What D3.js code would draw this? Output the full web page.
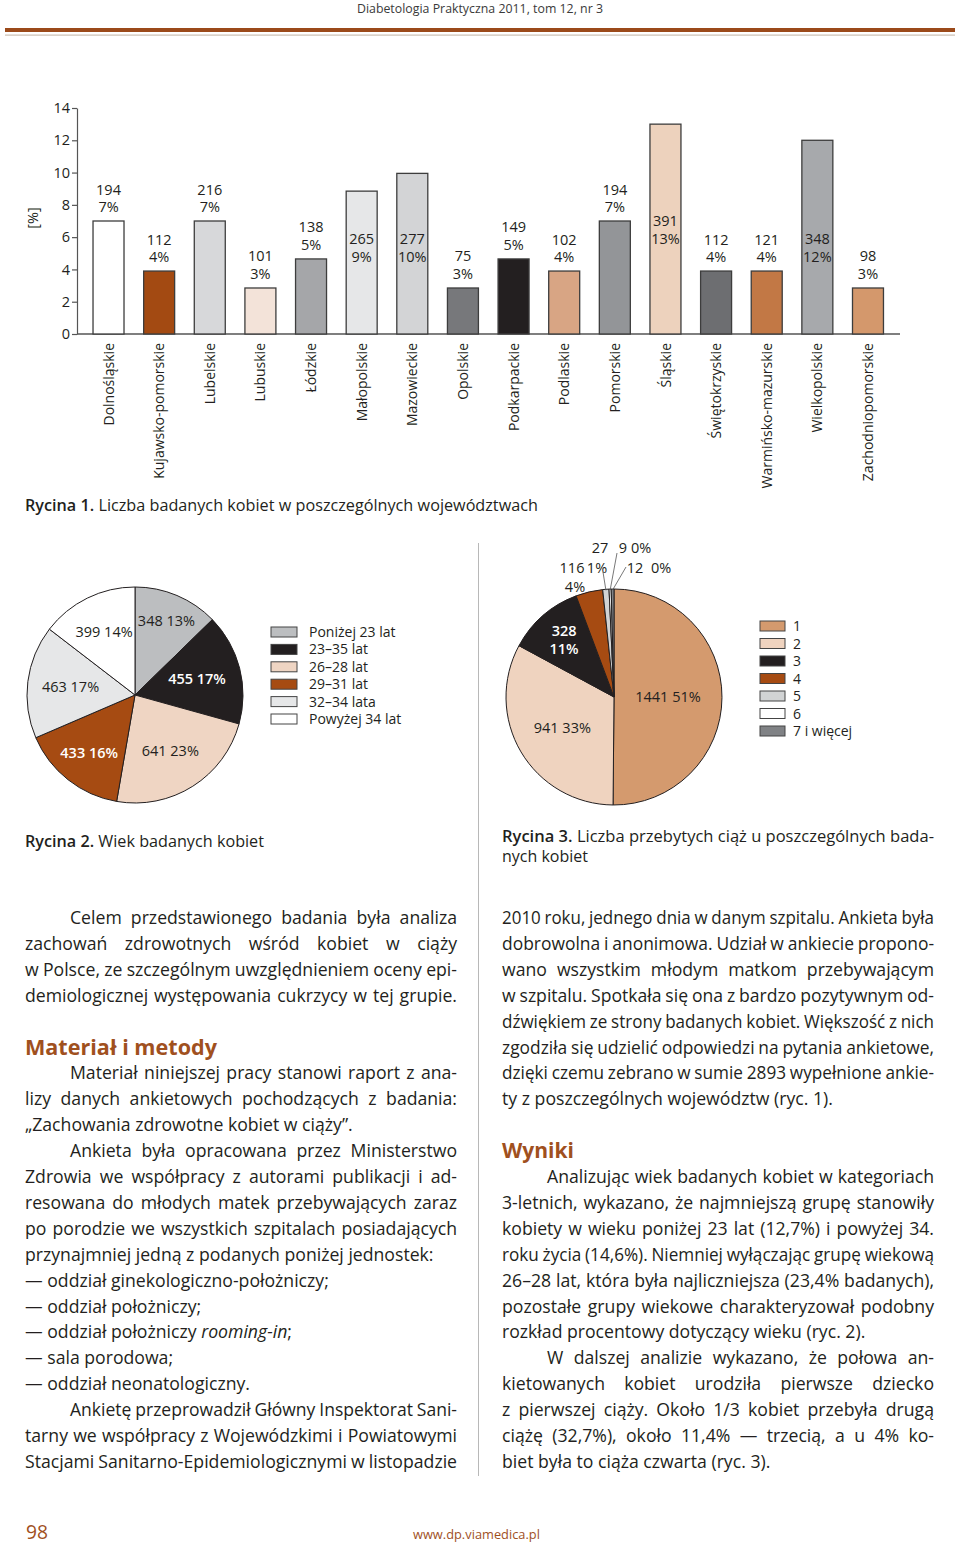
<!DOCTYPE html>
<html><head><meta charset="utf-8">
<script src="https://cdn.jsdelivr.net/npm/d3@7"></script>
<style>html,body{margin:0;padding:0;background:#fff}</style>
</head><body>
<svg id="page" width="960" height="1545"></svg>
<script>
// ---------------- DATA ----------------
const regions = ["Dolnośląskie","Kujawsko-pomorskie","Lubelskie","Lubuskie","Łódzkie","Małopolskie","Mazowieckie","Opolskie","Podkarpackie","Podlaskie","Pomorskie","Śląskie","Świętokrzyskie","Warmińsko-mazurskie","Wielkopolskie","Zachodniopomorskie"];
const regionCounts = [194,112,216,101,138,265,277,75,149,102,194,391,112,121,348,98];
const regionPctLabels = [7,4,7,3,5,9,10,3,5,4,7,13,4,4,12,3];
const regionBarValues = [7.0,3.9,7.0,2.85,4.65,8.85,9.95,2.85,4.65,3.9,7.0,13.0,3.9,3.9,12.0,2.85];
const yTicks = [0,2,4,6,8,10,12,14];

const ageGroups = ["Poniżej 23 lat","23–35 lat","26–28 lat","29–31 lat","32–34 lata","Powyżej 34 lat"];
const ageCounts = [348,455,641,433,463,399];
const agePct = [13,17,23,16,17,14];

const pregGroups = ["1","2","3","4","5","6","7 i więcej"];
const pregCounts = [1441,941,328,116,27,9,12];
const pregPct = [51,33,11,4,1,0,0];

// ---------------- STYLE ----------------
const FONT = "'Open Sans', 'Noto Sans', sans-serif";
const INK = "#231f20";
const BROWN = "#a0501e";
const regionColors = ["#ffffff","#a34a12","#d7d8da","#f3e3d9","#a5a6a9","#e6e7e8","#d3d4d6","#77787b","#231f20","#d8a584","#939598","#edd2bd","#6d6e71","#c27845","#a7a9ac","#d4986c"];
const ageColors = ["#bcbec0","#231f20","#efd5c3","#a64b12","#e6e7e8","#ffffff"];
const pregColors = ["#d49a6e","#efd3bf","#231f20","#a64b12","#d1d3d4","#ffffff","#808285"];

const svg = d3.select("#page").attr("font-family", FONT);
svg.append("rect").attr("width",960).attr("height",1545).attr("fill","#fff");

// ---------- text helpers ----------
const measurer = svg.append("text").attr("visibility","hidden").attr("x",0).attr("y",-100);
function parseWord(w){
  return w.split(/(\{[^}]*\}|\[[^\]]*\])/).filter(s=>s.length).map(s=>
    s[0]==="{" ? {t:s.slice(1,-1), it:true} : s[0]==="[" ? {t:s.slice(1,-1), b:true} : {t:s});
}
function natWidth(segs, size, weight){
  measurer.text(null).attr("font-size", size).attr("font-weight", weight);
  segs.forEach(s=>measurer.append("tspan").attr("font-style", s.it?"italic":"normal")
    .attr("font-weight", s.b?600:weight).text(s.t));
  return measurer.node().getComputedTextLength();
}
function drawLine(g, str, o){
  const size=o.size||17, weight=o.weight||400, color=o.color||INK;
  const words = str.split(" ").filter(w=>w.length);
  const segs = words.map(parseWord);
  const ww = segs.map(s=>natWidth(s,size,weight));
  const sp = natWidth([{t:"a a"}],size,weight) - natWidth([{t:"aa"}],size,weight);
  const W = o.x1 - o.x0, n = words.length, sum = d3.sum(ww);
  let k = o.k||1, gap = sp*k;
  if (o.justify && n>1){
    gap = (W - sum*k)/(n-1);
    if (gap < sp*k*0.85){ k = W/(sum + sp*0.85*(n-1)); gap = sp*0.85*k; }
  } else if (o.fit){
    k = W/(sum + sp*(n-1)); gap = sp*k;
  }
  let x = o.x0;
  segs.forEach((s,i)=>{
    const t = g.append("text").attr("transform",`translate(${x},${o.y}) scale(${k},1)`)
      .attr("font-size",size).attr("font-weight",weight).attr("fill",color);
    s.forEach(p=>t.append("tspan").attr("font-style",p.it?"italic":"normal")
      .attr("font-weight",p.b?600:weight).text(p.t));
    x += ww[i]*k + gap;
  });
}

// ---------- header ----------
drawLine(svg, "Diabetologia Praktyczna 2011, tom 12, nr 3", {x0:357,x1:603,y:13,size:13,fit:true,color:"#3a3a3a"});
svg.append("rect").attr("x",5).attr("y",28).attr("width",950).attr("height",4).attr("fill","#9b4a1a");
svg.append("rect").attr("x",5).attr("y",34.5).attr("width",950).attr("height",1.2).attr("fill","#cbbfb3");

// ---------- Figure 1: bar chart ----------
const x = d3.scaleBand().domain(regions).range([83.2,893.3]).paddingInner(0.388).paddingOuter(0.194);
const y = d3.scaleLinear().domain([0,14]).range([334,108]);
const f1 = svg.append("g");

const yAxis = f1.append("g").attr("transform","translate(77,0)")
  .call(d3.axisLeft(y).tickValues(yTicks).tickSize(5).tickSizeOuter(0).tickPadding(2));
yAxis.select(".domain").attr("stroke","#555").attr("stroke-width",1.2);
yAxis.selectAll(".tick line").attr("stroke","#555").attr("stroke-width",1.2);
yAxis.selectAll(".tick text").attr("font-size",14.5).attr("font-family",FONT).attr("fill",INK);

const xAxis = f1.append("g").attr("transform",`translate(0,${y(0)})`)
  .call(d3.axisBottom(x).tickSize(0));
xAxis.select(".domain").remove();
xAxis.selectAll(".tick text").attr("font-size",14).attr("font-family",FONT).attr("fill",INK)
  .attr("transform","rotate(-90)").attr("text-anchor","end").attr("x",-9).attr("y",0).attr("dy","0.36em");
f1.append("line").attr("x1",77).attr("x2",900).attr("y1",y(0)).attr("y2",y(0))
  .attr("stroke","#555").attr("stroke-width",1.4);

f1.selectAll("rect.bar").data(regions).join("rect").attr("class","bar")
  .attr("x",d=>x(d)).attr("width",x.bandwidth())
  .attr("y",(d,i)=>y(regionBarValues[i])).attr("height",(d,i)=>y(0)-y(regionBarValues[i]))
  .attr("fill",(d,i)=>regionColors[i]).attr("stroke","#3d3d3d").attr("stroke-width",1.3);

// label anchor: above short bars; tall bars carry labels lower
const labelAnchor = (v,i)=> v>8 ? (regions[i]==="Śląskie" ? 5.02 : 3.92) : v;
const bl = f1.selectAll("g.blab").data(regions).join("g").attr("class","blab")
  .attr("transform",(d,i)=>`translate(${x(d)+x.bandwidth()/2},${y(labelAnchor(regionBarValues[i],i))-9})`);
bl.append("text").attr("text-anchor","middle").attr("y",-17.5).attr("font-size",14.5).attr("fill",INK)
  .text((d,i)=>regionCounts[i]);
bl.append("text").attr("text-anchor","middle").attr("y",0).attr("font-size",14.5).attr("fill",INK)
  .text((d,i)=>regionPctLabels[i]+"%");

f1.append("text").attr("transform","translate(38,218) rotate(-90)").attr("text-anchor","middle")
  .attr("font-size",14.5).attr("fill",INK).text("[%]");

drawLine(svg, "[Rycina] [1.] Liczba badanych kobiet w poszczególnych województwach", {x0:25,x1:538,y:511,size:15.5,fit:true});

// ---------- divider ----------
svg.append("line").attr("x1",478.5).attr("x2",478.5).attr("y1",543).attr("y2",1476)
  .attr("stroke","#b8b8b8").attr("stroke-width",1);

// ---------- Figure 2: age pie ----------
const pie = d3.pie().sort(null).value(d=>d);
const R = 108;
const arc = d3.arc().innerRadius(0).outerRadius(R);
const f2 = svg.append("g").attr("transform","translate(135,695)");
const ageArcs = pie(ageCounts);
f2.selectAll("path").data(ageArcs).join("path").attr("d",arc)
  .attr("fill",(d,i)=>ageColors[i]).attr("stroke",INK).attr("stroke-width",1);
const ageLabR = [81,64,66,74,65,70];
const ageWhite = [false,true,false,true,false,false];
f2.selectAll("text.pl").data(ageArcs).join("text").attr("class","pl")
  .attr("x",(d,i)=>ageLabR[i]*Math.sin((d.startAngle+d.endAngle)/2))
  .attr("y",(d,i)=>-ageLabR[i]*Math.cos((d.startAngle+d.endAngle)/2))
  .attr("dy","0.36em").attr("text-anchor","middle").attr("font-size",14.5)
  .attr("font-weight",(d,i)=>ageWhite[i]?600:400)
  .attr("fill",(d,i)=>ageWhite[i]?"#fff":INK)
  .text((d,i)=>`${ageCounts[i]} ${agePct[i]}%`);

const lg1 = svg.append("g");
ageGroups.forEach((g,i)=>{
  const cy = 632 + i*17.4;
  lg1.append("rect").attr("x",271).attr("y",cy-5).attr("width",26).attr("height",10)
    .attr("fill",ageColors[i]).attr("stroke","#444").attr("stroke-width",1);
  lg1.append("text").attr("x",309).attr("y",cy).attr("dy","0.36em").attr("font-size",14).attr("fill",INK).text(g);
});

// ---------- Figure 3: pregnancies pie ----------
const f3 = svg.append("g").attr("transform","translate(614,697)");
const pregArcs = pie(pregCounts);
f3.selectAll("path").data(pregArcs).join("path").attr("d",arc)
  .attr("fill",(d,i)=>pregColors[i]).attr("stroke",INK).attr("stroke-width",1);
const mid = d=>(d.startAngle+d.endAngle)/2;
const innerLab = [{i:0,r:54,lines:["1441 51%"],w:false},{i:1,r:60,lines:["941 33%"],w:false},{i:2,r:76,lines:["328","11%"],w:true}];
innerLab.forEach(L=>{
  const d = pregArcs[L.i];
  const cx = L.r*Math.sin(mid(d)), cy = -L.r*Math.cos(mid(d));
  L.lines.forEach((t,j)=>{
    f3.append("text").attr("x",cx).attr("y",cy+(j-(L.lines.length-1)/2)*18).attr("dy","0.36em")
      .attr("text-anchor","middle").attr("font-size",14.5).attr("font-weight",L.w?600:400)
      .attr("fill",L.w?"#fff":INK).text(t);
  });
});
const outerLab = [
  {i:3, lines:[["116",-42,-129],["4%",-39,-110]]},
  {i:4, lines:[["27",-14,-149],["1%",-17,-129]], lead:[-11,-125]},
  {i:5, lines:[["9 0%",21,-149]], lead:[3,-144]},
  {i:6, lines:[["12\u00a0\u00a00%",35,-129]], lead:[12,-130]}
];
outerLab.forEach(L=>{
  const d = pregArcs[L.i];
  L.lines.forEach(([t,dx,dy])=>{
    f3.append("text").attr("x",dx).attr("y",dy).attr("dy","0.36em").attr("text-anchor","middle")
      .attr("font-size",14.5).attr("fill",INK).text(t);
  });
  if (L.lead){
    const a = mid(d);
    f3.append("line").attr("x1",L.lead[0]).attr("y1",L.lead[1])
      .attr("x2",(R-1)*Math.sin(a)).attr("y2",-(R-1)*Math.cos(a))
      .attr("stroke","#555").attr("stroke-width",0.8);
  }
});

const lg2 = svg.append("g");
pregGroups.forEach((g,i)=>{
  const cy = 626 + i*17.5;
  lg2.append("rect").attr("x",760).attr("y",cy-5).attr("width",25).attr("height",10)
    .attr("fill",pregColors[i]).attr("stroke","#444").attr("stroke-width",1);
  lg2.append("text").attr("x",793).attr("y",cy).attr("dy","0.36em").attr("font-size",14).attr("fill",INK).text(g);
});

drawLine(svg, "[Rycina] [2.] Wiek badanych kobiet", {x0:25,x1:264,y:847,size:15.5,fit:true});
drawLine(svg, "[Rycina] [3.] Liczba przebytych ciąż u poszczególnych bada-", {x0:502,x1:934,y:842,size:15.5,fit:true});
drawLine(svg, "nych kobiet", {x0:502,x1:588,y:862,size:15.5,fit:true});

// ---------- body text ----------
const leftLines = [
  ["p","Celem przedstawionego badania była analiza"],
  ["j","zachowań zdrowotnych wśród kobiet w ciąży"],
  ["j","w Polsce, ze szczególnym uwzględnieniem oceny epi-"],
  ["j","demiologicznej występowania cukrzycy w tej grupie."],
  ["",""],
  ["h","Materiał i metody"],
  ["p","Materiał niniejszej pracy stanowi raport z ana-"],
  ["j","lizy danych ankietowych pochodzących z badania:"],
  ["n","„Zachowania zdrowotne kobiet w ciąży”."],
  ["p","Ankieta była opracowana przez Ministerstwo"],
  ["j","Zdrowia we współpracy z autorami publikacji i ad-"],
  ["j","resowana do młodych matek przebywających zaraz"],
  ["j","po porodzie we wszystkich szpitalach posiadających"],
  ["n","przynajmniej jedną z podanych poniżej jednostek:"],
  ["n","— oddział ginekologiczno-położniczy;"],
  ["n","— oddział położniczy;"],
  ["n","— oddział położniczy {rooming-in};"],
  ["n","— sala porodowa;"],
  ["n","— oddział neonatologiczny."],
  ["p","Ankietę przeprowadził Główny Inspektorat Sani-"],
  ["j","tarny we współpracy z Wojewódzkimi i Powiatowymi"],
  ["j","Stacjami Sanitarno-Epidemiologicznymi w listopadzie"]
];
const rightLines = [
  ["j","2010 roku, jednego dnia w danym szpitalu. Ankieta była"],
  ["j","dobrowolna i anonimowa. Udział w ankiecie propono-"],
  ["j","wano wszystkim młodym matkom przebywającym"],
  ["j","w szpitalu. Spotkała się ona z bardzo pozytywnym od-"],
  ["j","dźwiękiem ze strony badanych kobiet. Większość z nich"],
  ["j","zgodziła się udzielić odpowiedzi na pytania ankietowe,"],
  ["j","dzięki czemu zebrano w sumie 2893 wypełnione ankie-"],
  ["n","ty z poszczególnych województw (ryc. 1)."],
  ["",""],
  ["h","Wyniki"],
  ["p","Analizując wiek badanych kobiet w kategoriach"],
  ["j","3-letnich, wykazano, że najmniejszą grupę stanowiły"],
  ["j","kobiety w wieku poniżej 23 lat (12,7%) i powyżej 34."],
  ["j","roku życia (14,6%). Niemniej wyłączając grupę wiekową"],
  ["j","26–28 lat, która była najliczniejsza (23,4% badanych),"],
  ["j","pozostałe grupy wiekowe charakteryzował podobny"],
  ["n","rozkład procentowy dotyczący wieku (ryc. 2)."],
  ["p","W dalszej analizie wykazano, że połowa an-"],
  ["j","kietowanych kobiet urodziła pierwsze dziecko"],
  ["j","z pierwszej ciąży. Około 1/3 kobiet przebyła drugą"],
  ["j","ciążę (32,7%), około 11,4% — trzecią, a u 4% ko-"],
  ["n","biet była to ciąża czwarta (ryc. 3)."]
];
const BODY = 18.3, KB = 0.965, LH = 25.9, TOP = 924;
function drawColumn(lines, x0, x1, headW){
  const g = svg.append("g");
  lines.forEach(([kind,t],i)=>{
    const yb = TOP + i*LH;
    if (!t) return;
    if (kind==="h") drawLine(g, t, {x0, x1:x0+headW, y:yb+1, size:21, weight:700, color:BROWN, fit:true});
    else if (kind==="p") drawLine(g, t, {x0:x0+45, x1, y:yb, size:BODY, k:KB, justify:true});
    else if (kind==="j") drawLine(g, t, {x0, x1, y:yb, size:BODY, k:KB, justify:true});
    else drawLine(g, t, {x0, x1, y:yb, size:BODY, k:KB});
  });
}
drawColumn(leftLines, 25, 457, 192);
drawColumn(rightLines, 502, 934, 72);

// ---------- footer ----------
drawLine(svg, "98", {x0:26,x1:48,y:1539,size:20,fit:true,color:BROWN});
drawLine(svg, "www.dp.viamedica.pl", {x0:413,x1:540,y:1539,size:13,fit:true,color:BROWN});
measurer.remove();
</script>
</body></html>
